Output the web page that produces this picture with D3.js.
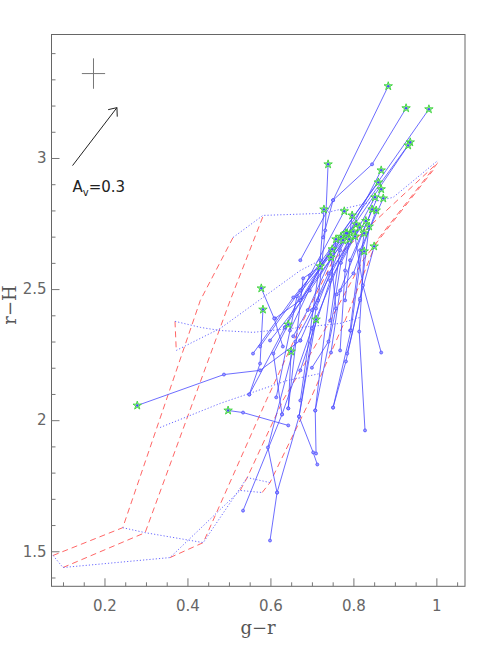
<!DOCTYPE html>
<html><head><meta charset="utf-8">
<script src="https://cdn.jsdelivr.net/npm/d3@7/dist/d3.min.js"></script>
<style>body{margin:0;background:#fff} svg{display:block}</style>
</head><body>
<svg id="c" width="491" height="653"></svg>
<script>
// ---------------- data ----------------
const xMajorTicks = [0.2, 0.4, 0.6, 0.8, 1.0];
const xTickLabels = ["0.2", "0.4", "0.6", "0.8", "1"];
const xMinorTicks = [0.1,0.15,0.25,0.3,0.35,0.45,0.5,0.55,0.65,0.7,0.75,0.85,0.9,0.95,1.05];
const yMajorTicks = [1.5, 2.0, 2.5, 3.0];
const yTickLabels = ["1.5", "2", "2.5", "3"];
const yMinorTicks = [1.4,1.6,1.7,1.8,1.9,2.1,2.2,2.3,2.4,2.6,2.7,2.8,2.9,3.1,3.2,3.3,3.4];
const xDomain = [0.0723, 1.069];
const yDomain = [1.3664, 3.471];

// model grid: red dashed tracks
const redModelTracks = [
  [[0.076,1.484],[0.244,1.590],[0.431,2.457],[0.510,2.697]],
  [[0.100,1.438],[0.298,1.571],[0.503,2.457],[0.582,2.777]],
  [[0.370,2.377],[0.373,2.266]],
  [[0.358,1.476],[0.438,1.533],[0.590,2.075],[0.679,2.380],[0.751,2.610],[1.004,2.983]],
  [[0.527,1.732],[0.544,1.781],[0.630,2.075],[0.744,2.380],[0.823,2.610],[0.992,2.953]],
  [[0.580,1.724],[0.599,1.762],[0.695,2.075],[0.780,2.380],[0.857,2.686],[1.002,2.979]]
];
// model grid: blue dotted lines
const blueModelLines = [
  [[0.076,1.484],[0.100,1.438],[0.358,1.476],[0.527,1.732],[0.580,1.724]],
  [[0.244,1.590],[0.298,1.571],[0.438,1.533],[0.544,1.781],[0.599,1.762]],
  [[0.334,1.972],[0.479,2.064],[0.640,2.151],[0.720,2.178]],
  [[0.373,2.266],[0.479,2.350],[0.672,2.571],[0.720,2.610]],
  [[0.370,2.377],[0.431,2.354],[0.479,2.342],[0.558,2.335],[0.768,2.369],[0.816,2.392]],
  [[0.510,2.697],[0.582,2.781],[0.727,2.789],[0.896,2.850],[1.004,2.991]]
];

// observed tracks: first point is the star
const tracks = [
  [[0.884,3.274],[0.751,2.839],[0.727,2.697]],
  [[0.927,3.190],[0.845,2.976],[0.751,2.839],[0.672,2.610]],
  [[0.982,3.186],[0.744,2.648],[0.672,2.457]],
  [[0.937,3.060],[0.720,2.587],[0.647,2.342]],
  [[0.932,3.048],[0.695,2.495],[0.599,2.304]],
  [[0.739,2.976],[0.732,2.724],[0.715,2.457],[0.672,2.304]],
  [[0.867,2.953],[0.768,2.648],[0.744,2.380]],
  [[0.860,2.907],[0.672,2.495],[0.575,2.281]],
  [[0.867,2.881],[0.792,2.610],[0.780,2.457]],
  [[0.852,2.850],[0.744,2.533],[0.672,2.190]],
  [[0.872,2.846],[0.816,2.648],[0.792,2.342]],
  [[0.729,2.804],[0.720,2.610],[0.672,2.075]],
  [[0.778,2.797],[0.695,2.552],[0.635,2.354]],
  [[0.845,2.804],[0.768,2.495],[0.746,2.258]],
  [[0.797,2.781],[0.780,2.571],[0.768,2.266]],
  [[0.807,2.747],[0.672,2.457],[0.611,2.388]],
  [[0.838,2.739],[0.816,2.457],[0.785,2.254]],
  [[0.826,2.713],[0.794,2.342],[0.751,2.048]],
  [[0.785,2.713],[0.655,2.468],[0.558,2.254]],
  [[0.804,2.701],[0.823,2.514],[0.867,2.258]],
  [[0.775,2.686],[0.664,2.472],[0.614,2.087]],
  [[0.749,2.652],[0.635,2.354],[0.549,2.098]],
  [[0.826,2.644],[0.814,2.338],[0.828,1.961]],
  [[0.850,2.663],[0.816,2.464],[0.782,2.224],[0.751,2.048]],
  [[0.720,2.587],[0.679,2.541],[0.643,2.045]],
  [[0.746,2.621],[0.758,2.426],[0.708,2.037]],
  [[0.578,2.503],[0.609,2.388],[0.630,2.281]],
  [[0.582,2.422],[0.575,2.216],[0.549,2.098]],
  [[0.710,2.384],[0.669,2.014],[0.616,1.724],[0.599,1.541]],
  [[0.643,2.365],[0.607,2.254],[0.628,2.022],[0.534,1.655]],
  [[0.650,2.262],[0.643,2.045]],
  [[0.498,2.037],[0.534,2.029],[0.643,1.980]],
  [[0.279,2.056],[0.488,2.174],[0.575,2.190],[0.672,2.304]],
  [[0.782,2.713],[0.710,2.426],[0.669,2.014],[0.703,1.877],[0.713,1.831]],
  [[0.758,2.690],[0.708,2.037],[0.710,1.873]],
  [[0.800,2.720],[0.660,2.300],[0.594,1.896],[0.616,1.724]],
  [[0.790,2.690],[0.700,2.350],[0.628,2.022]],
  [[0.830,2.760],[0.740,2.560],[0.700,2.420]],
  [[0.815,2.735],[0.770,2.600],[0.740,2.300],[0.700,2.200]],
  [[0.855,2.800],[0.800,2.560],[0.760,2.480]],
  [[0.770,2.700],[0.690,2.420],[0.655,2.320]]
];

const errCenter = [0.1735, 3.322];
const errHalf = [0.028, 0.058];
const avStart = [0.123, 2.971];
const avEnd = [0.230, 3.192];
const avLabelPos = [0.123, 2.870];

// ---------------- drawing ----------------
const svg = d3.select("#c");
const L = 51.5, R = 465, T = 34.5, B = 586.3;
const x = d3.scaleLinear().domain(xDomain).range([L, R]);
const y = d3.scaleLinear().domain(yDomain).range([B, T]);
const line = d3.line().x(d => x(d[0])).y(d => y(d[1]));

const g = svg.append("g");
g.append("defs").append("clipPath").attr("id","clip")
  .append("rect").attr("x",L).attr("y",T).attr("width",R-L).attr("height",B-T);
const plot = g.append("g").attr("clip-path","url(#clip)");

// model grid
plot.selectAll("path.red").data(redModelTracks).join("path")
  .attr("class","red").attr("d", line).attr("fill","none")
  .attr("stroke","#ff6666").attr("stroke-width",1).attr("stroke-dasharray","6,4");
plot.selectAll("path.bdot").data(blueModelLines).join("path")
  .attr("class","bdot").attr("d", line).attr("fill","none")
  .attr("stroke","#6a6aff").attr("stroke-width",1).attr("stroke-dasharray","1.2,2");

// observed tracks
plot.selectAll("path.trk").data(tracks).join("path")
  .attr("class","trk").attr("d", line).attr("fill","none")
  .attr("stroke","#4848ff").attr("stroke-opacity",0.8).attr("stroke-width",1);
const pts = tracks.flatMap(t => t.slice(1));
plot.selectAll("circle.pt").data(pts).join("circle")
  .attr("class","pt").attr("cx", d => x(d[0])).attr("cy", d => y(d[1]))
  .attr("r",1.5).attr("fill","#9a9aff").attr("stroke","#4848ff").attr("stroke-width",0.7);
const stars = tracks.map(t => t[0]);
const starSym = d3.symbol().type(d3.symbolStar).size(22);
plot.selectAll("path.star").data(stars).join("path")
  .attr("class","star").attr("d", starSym)
  .attr("transform", d => `translate(${x(d[0])},${y(d[1])})`)
  .attr("fill","#9df09d").attr("stroke","#3bd23b").attr("stroke-width",0.9);
plot.selectAll("circle.sc").data(stars).join("circle")
  .attr("class","sc").attr("cx", d => x(d[0])).attr("cy", d => y(d[1]))
  .attr("r",1.2).attr("fill","#4848ff");

// error cross
g.append("line").attr("x1",x(errCenter[0]-errHalf[0])).attr("x2",x(errCenter[0]+errHalf[0]))
  .attr("y1",y(errCenter[1])).attr("y2",y(errCenter[1])).attr("stroke","#777");
g.append("line").attr("x1",x(errCenter[0])).attr("x2",x(errCenter[0]))
  .attr("y1",y(errCenter[1]-errHalf[1])).attr("y2",y(errCenter[1]+errHalf[1])).attr("stroke","#777");

// reddening arrow
const ax0 = x(avStart[0]), ay0 = y(avStart[1]), ax1 = x(avEnd[0]), ay1 = y(avEnd[1]);
g.append("line").attr("x1",ax0).attr("y1",ay0).attr("x2",ax1).attr("y2",ay1).attr("stroke","#222");
const ang = Math.atan2(ay1-ay0, ax1-ax0);
[Math.PI*0.78, -Math.PI*0.78].forEach(da => {
  g.append("line").attr("x1",ax1).attr("y1",ay1)
    .attr("x2",ax1 + 9*Math.cos(ang+da)).attr("y2",ay1 + 9*Math.sin(ang+da)).attr("stroke","#222");
});
const avt = g.append("text").attr("x",x(avLabelPos[0])).attr("y",y(avLabelPos[1]))
  .attr("font-family","DejaVu Sans").attr("font-size",15).attr("fill","#222");
avt.append("tspan").text("A");
avt.append("tspan").attr("dy",4).attr("font-size",10).text("v");
avt.append("tspan").attr("dy",-4).text("=0.3");

// frame
g.append("rect").attr("x",L).attr("y",T).attr("width",R-L).attr("height",B-T)
  .attr("fill","none").attr("stroke","#666").attr("stroke-width",1);

// axes (ticks inside)
const axB = g.append("g").attr("transform",`translate(0,${B})`);
axB.call(d3.axisBottom(x).tickValues(xMinorTicks).tickSize(-4).tickFormat(""));
const axBM = g.append("g").attr("transform",`translate(0,${B})`);
axBM.call(d3.axisBottom(x).tickValues(xMajorTicks).tickSize(-8).tickPadding(14)
  .tickFormat((d,i) => xTickLabels[i]));
const axL = g.append("g").attr("transform",`translate(${L},0)`);
axL.call(d3.axisLeft(y).tickValues(yMinorTicks).tickSize(-4).tickFormat(""));
const axLM = g.append("g").attr("transform",`translate(${L},0)`);
axLM.call(d3.axisLeft(y).tickValues(yMajorTicks).tickSize(-8).tickPadding(5)
  .tickFormat((d,i) => yTickLabels[i]));
[axB, axBM, axL, axLM].forEach(a => {
  a.select(".domain").remove();
  a.selectAll("line").attr("stroke","#777");
  a.selectAll("text").attr("font-family","DejaVu Sans").attr("font-size",15).attr("fill","#666");
});

// axis titles
g.append("text").attr("x",258).attr("y",634).attr("text-anchor","middle")
  .attr("font-family","DejaVu Serif").attr("font-size",18).attr("fill","#555").text("g\u2212r");
g.append("text").attr("transform","translate(16,305) rotate(-90)").attr("text-anchor","middle")
  .attr("font-family","DejaVu Serif").attr("font-size",18).attr("fill","#555").text("r\u2212H");
</script>
</body></html>
